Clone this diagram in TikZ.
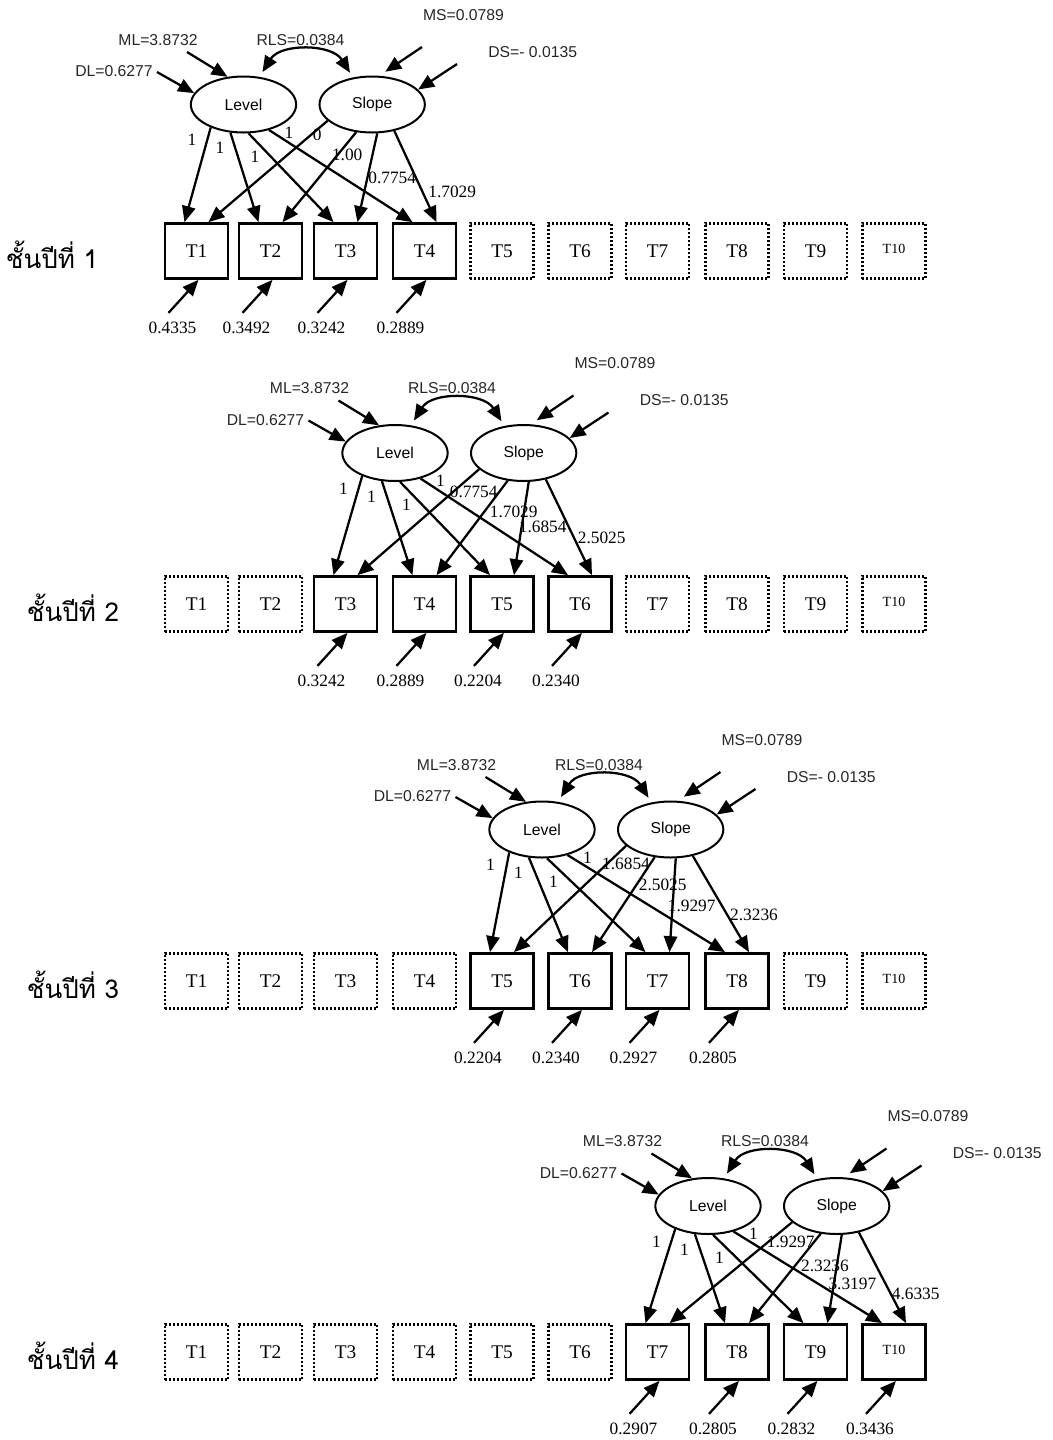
\documentclass[tikz,border=0pt]{standalone}
\usepackage{fontspec}
\setmainfont{Liberation Serif}
\setsansfont{Liberation Sans}
\newfontfamily\thaifont[Script=Thai]{Loma}
\usepackage{tikz}
\usetikzlibrary{
    arrows.meta,
    positioning,
    calc,
    shapes.geometric
}

% T10 is set smaller and a little raised
\newcommand\tlab[1]{\ifnum#1=10 \raisebox{3pt}{\fontsize{10.5}{12}\selectfont T10}\else T#1\fi}

% one grade: #1 grade, #2/#3 centre of Level, #4 row of the boxes,
% #5 first observed occasion, #6 slope loadings, #7 error variances,
% #8 x of the grade label
\newcommand\gradepanel[8]{
    \pgfmathtruncatemacro\lastobs{#5+3}
    \foreach \i/\bx in {1/196.5,2/270.5,3/345.5,4/424.5,5/502,
                        6/580,7/657.5,8/737,9/815.5,10/894}{
        \ifnum\i<#5 \def\bst{hidden}\else
            \ifnum\i>\lastobs\relax \def\bst{hidden}\else\def\bst{obs}\fi\fi
        \node[\bst] (t#1-\i) at (\bx,#4) {\tlab{\i}};
    }
    \node[grade] (g#1) at (#8,{#4+4}) {ชั้นปีที่ #1};

    \node[latent] (l#1) at (#2,#3) {Level};
    \node[latent, right=16pt of l#1] (s#1) {Slope};

    % means, disturbances and covariance
    \node[par] (ml#1) at ($(l#1)+(-85.5,-64.5)$) {ML=3.8732};
    \node[par] (rls#1) at ($(l#1)+(57,-64.5)$) {RLS=0.0384};
    \node[par] (ms#1) at ($(l#1)+(220,-89.5)$) {MS=0.0789};
    \node[par, anchor=east] (dl#1) at ($(l#1)+(-90.5,-33)$) {DL=0.6277};
    \node[par, anchor=west] (ds#1) at ($(l#1)+(244.5,-52.5)$) {DS=- 0.0135};
    \coordinate (mla#1) at ($(l#1)+(-56.5,-52.5)$);
    \coordinate (dla#1) at ($(l#1)+(-86.5,-32.5)$);
    \coordinate (msa#1) at ($(l#1)+(178.5,-57.5)$);
    \coordinate (dsa#1) at ($(l#1)+(213.5,-40.5)$);
    \draw[arrow] (mla#1) -- (l#1.120);
    \draw[arrow] (dla#1) -- (l#1.167);
    \draw[arrow] (msa#1) -- ([yshift=3.5pt]s#1.65);
    \draw[arrow] (dsa#1) -- (s#1.18);
    \draw[arrow, <->] ([yshift=4pt]l#1.55) to[out=58,in=122] ([yshift=4pt]s#1.130);

    % loadings
    \foreach \la/\sa [count=\k from 0] in {215/200,245/240,280/280,315/310}{
        \pgfmathtruncatemacro\n{#5+\k}
        \draw[arrow] (l#1.\la) -- ([xshift=-9pt]t#1-\n.north);
        \draw[arrow] (s#1.\sa) -- ([xshift=9pt]t#1-\n.north);
    }
    \foreach \dx/\dy [count=\k] in {-51.5/35.5,-23.5/43.5,11.5/52,45.5/28}
        \node[coef] (one#1-\k) at ($(l#1)+(\dx,\dy)$) {1};
    \foreach \c/\dx/\dy [count=\k] in {#6}
        \node[coef] (b#1-\k) at ($(s#1)+(\dx,\dy)$) {\c};

    % measurement errors
    \foreach \v [count=\k from 0] in {#7}{
        \pgfmathtruncatemacro\n{#5+\k}
        \coordinate (ea#1-\n) at ($(t#1-\n.south)+(-28,33)$);
        \node[coef] (e#1-\n) at ($(t#1-\n.south)+(-24,48)$) {\v};
        \draw[arrow] (ea#1-\n) -- ([xshift=1.5pt]t#1-\n.south);
    }
}

\begin{document}
\begin{tikzpicture}[
            x=0.75pt, y=-0.75pt,
            >={Triangle[length=12pt,width=10pt]},
            obs/.style={
                draw,
                rectangle,
                line width=1.8pt,
                minimum width=47.5pt,
                minimum height=41.5pt,
                inner sep=0pt,
                font=\fontsize{14.5}{16}\selectfont
            },
            hidden/.style={
                obs,
                line width=1.8pt,
                dash pattern=on 1.5pt off 1.5pt
            },
            latent/.style={
                draw,
                ellipse,
                line width=1.5pt,
                minimum width=79pt,
                minimum height=42pt,
                inner sep=0pt,
                font=\sffamily\fontsize{11.8}{13}\selectfont
            },
            arrow/.style={
                ->,
                line width=1.7pt
            },
            coef/.style={
                font=\fontsize{13}{15}\selectfont,
                inner sep=0pt
            },
            par/.style={
                font=\sffamily\fontsize{11.8}{14}\selectfont,
                text=black!85,
                inner sep=0pt
            },
            grade/.style={
                font=\thaifont\fontsize{19.5}{22}\selectfont,
                inner sep=0pt
            }
            ]
    \useasboundingbox (0,0) rectangle (1053,1440);

    \gradepanel{1}{243.5}{104.5}{251}{1}
        {0/-55/30.5, 1.00/-25/50.5, 0.7754/20/73.5, 1.7029/80/87.5}
        {0.4335,0.3492,0.3242,0.2889}{52}
    \gradepanel{2}{395}{453}{604}{3}
        {0.7754/-50/38.7, 1.7029/-10/59.3, 1.6854/19/73.7, 2.5025/78/84.7}
        {0.3242,0.2889,0.2204,0.2340}{73}
    \gradepanel{3}{542}{829.5}{981}{5}
        {1.6854/-44.6/34.5, 2.5025/-8/55.5, 1.9297/21/76.2, 2.3236/83.4/85.5}
        {0.2204,0.2340,0.2927,0.2805}{73}
    \gradepanel{4}{708}{1206}{1352}{7}
        {1.9297/-46/35.7, 2.3236/-11.7/59.7, 3.3197/15.7/78.3, 4.6335/79/88.3}
        {0.2907,0.2805,0.2832,0.3436}{73}

\end{tikzpicture}
\end{document}
